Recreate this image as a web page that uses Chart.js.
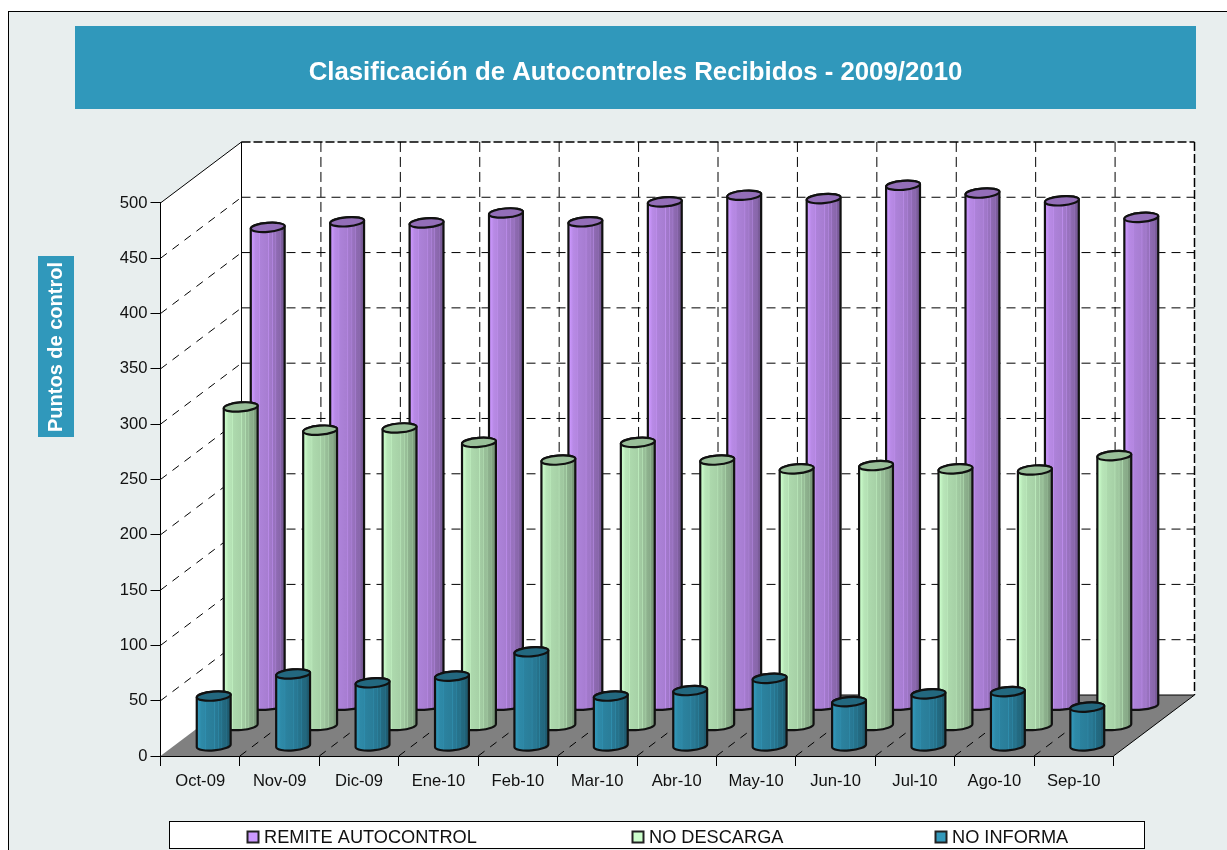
<!DOCTYPE html>
<html>
<head>
<meta charset="utf-8">
<title>Autocontroles</title>
<script src="https://cdn.jsdelivr.net/npm/chart.js@4"></script>
<style>
    html, body { margin: 0; background: #fff; overflow: hidden; }
    canvas { display: block; }
</style>
</head>
<body>
<canvas id="myChart" width="1227" height="850"></canvas>
<script>
var meses = ['Oct-09', 'Nov-09', 'Dic-09', 'Ene-10', 'Feb-10', 'Mar-10', 'Abr-10', 'May-10', 'Jun-10', 'Jul-10', 'Ago-10', 'Sep-10'];
var remite = [432, 437, 436, 445, 437, 455, 461, 458, 470, 463, 456, 441];
var noDescarga = [288, 267, 269, 256, 240, 256, 240, 232, 235, 232, 231, 244];
var noInforma = [45, 65, 57, 63, 85, 45, 50, 61, 40, 47, 49, 35];

var FONT = '"Liberation Sans", Arial, sans-serif';
var DX = 81, DY = 61;   // profundidad del grafico 3D
var RX = 17, RY = 4.5, TILT = -0.08;

// color base, mas oscuro segun f
function shade(rgb, f) {
    return 'rgb(' + Math.round(rgb[0] * f) + ',' + Math.round(rgb[1] * f) + ',' + Math.round(rgb[2] * f) + ')';
}

var rayas = [[0, 1], [0.07, 0.97], [0.14, 0.9], [0.24, 0.88], [0.26, 0.93], [0.28, 0.85], [0.42, 0.83], [0.5, 0.82], [0.52, 0.92], [0.54, 0.8],
    [0.62, 0.78], [0.64, 0.87], [0.66, 0.75], [0.72, 0.74], [0.74, 0.84], [0.76, 0.7], [0.86, 0.67], [0.88, 0.72], [0.9, 0.62], [1, 0.56]];

function cilindro(ctx, cx, yBase, yTop, rgb, fTop) {
    var grad = ctx.createLinearGradient(cx - RX, 0, cx + RX, 0);
    rayas.forEach(function (r) {
        grad.addColorStop(r[0], shade(rgb, r[1]));
    });

    ctx.beginPath();
    ctx.ellipse(cx, yBase, RX, RY, TILT, Math.PI, 0, true);
    ctx.ellipse(cx, yTop, RX, RY, TILT, 0, Math.PI, true);
    ctx.closePath();
    ctx.fillStyle = grad;
    ctx.fill();
    ctx.lineWidth = 2.2;
    ctx.strokeStyle = '#111';
    ctx.stroke();

    ctx.beginPath();
    ctx.ellipse(cx, yTop, RX, RY, TILT, 0, Math.PI * 2);
    ctx.fillStyle = shade(rgb, fTop);
    ctx.fill();
    ctx.stroke();
}

function linea(ctx, x1, y1, x2, y2, dash, width) {
    ctx.beginPath();
    ctx.setLineDash(dash || []);
    ctx.lineWidth = width || 1;
    ctx.moveTo(x1, y1);
    ctx.lineTo(x2, y2);
    ctx.stroke();
    ctx.setLineDash([]);
}

var plugin3d = {
    id: 'plugin3d',
    afterLayout: function (chart) {
        // centrar el titulo sobre la banda azul
        chart.titleBlock.left -= 3;
    },
    beforeDraw: function (chart) {
        var ctx = chart.ctx;
        var x = chart.scales.x, y = chart.scales.y;
        var i, px, py;

        ctx.save();
        // fondo y marco
        ctx.fillStyle = '#e8eeee';
        ctx.fillRect(8.5, 11.5, 1220, 840);
        ctx.strokeStyle = '#000';
        ctx.lineWidth = 1;
        ctx.strokeRect(8.5, 11.5, 1240, 860);

        // banda del titulo
        ctx.fillStyle = '#3098bb';
        ctx.fillRect(75, 26, 1121, 83);

        // titulo del eje Y
        ctx.fillRect(38, 256, 36, 181);
        ctx.save();
        ctx.translate(56, 347);
        ctx.rotate(-Math.PI / 2);
        ctx.fillStyle = '#fff';
        ctx.font = 'bold 20px ' + FONT;
        ctx.textAlign = 'center';
        ctx.textBaseline = 'middle';
        ctx.fillText('Puntos de control', 0, 0);
        ctx.restore();

        // paredes y suelo
        var y0 = y.getPixelForValue(0), yMax = y.getPixelForValue(500);
        ctx.fillStyle = '#fff';
        ctx.fillRect(x.left + DX, yMax - DY, x.right - x.left, y0 - yMax);
        ctx.beginPath();
        ctx.moveTo(x.left, yMax);
        ctx.lineTo(x.left + DX, yMax - DY);
        ctx.lineTo(x.left + DX, y0 - DY);
        ctx.lineTo(x.left, y0);
        ctx.closePath();
        ctx.fill();
        ctx.fillStyle = '#808080';
        ctx.beginPath();
        ctx.moveTo(x.left, y0);
        ctx.lineTo(x.left + DX, y0 - DY);
        ctx.lineTo(x.right + DX, y0 - DY);
        ctx.lineTo(x.right, y0);
        ctx.closePath();
        ctx.fill();

        // rejilla
        ctx.strokeStyle = '#000';
        y.ticks.forEach(function (t) {
            py = y.getPixelForValue(t.value);
            if (t.value > 0 && t.value < 500) {
                linea(ctx, x.left + DX, py - DY, x.right + DX, py - DY, [9, 6]);
                linea(ctx, x.left, py, x.left + DX, py - DY, [8, 7]);
            }
        });
        for (i = 1; i < meses.length; i++) {
            px = x.left + (x.right - x.left) * i / meses.length;
            linea(ctx, px + DX, yMax - DY, px + DX, y0 - DY, [10, 5]);
            linea(ctx, px, y0, px + DX, y0 - DY, [8, 7]);
        }

        // bordes
        linea(ctx, x.left, yMax, x.left + DX, yMax - DY);
        linea(ctx, x.left + DX, yMax - DY, x.left + DX, y0 - DY);
        linea(ctx, x.left + DX, yMax - DY, x.right + DX, yMax - DY, [9, 3], 1.5);
        linea(ctx, x.right + DX, yMax - DY, x.right + DX, y0 - DY, [9, 3], 1.5);
        linea(ctx, x.left + DX, y0 - DY, x.right + DX, y0 - DY);
        linea(ctx, x.right, y0, x.right + DX, y0 - DY);

        // leyenda
        ctx.fillStyle = '#fff';
        ctx.fillRect(169.5, 821.5, 975, 27);
        ctx.strokeStyle = '#000';
        ctx.lineWidth = 1;
        ctx.strokeRect(169.5, 821.5, 975, 27);

        var posLeyenda = [247, 632, 935];
        ctx.font = '18.2px ' + FONT;
        ctx.textBaseline = 'middle';
        chart.data.datasets.forEach(function (ds, n) {
            ctx.fillStyle = shade(ds.rgb, 1);
            ctx.fillRect(posLeyenda[n] + 0.5, 831.5, 11, 11);
            ctx.lineWidth = 2;
            ctx.strokeStyle = '#222';
            ctx.strokeRect(posLeyenda[n] + 0.5, 831.5, 11, 11);
            ctx.fillStyle = '#111';
            ctx.fillText(ds.label, posLeyenda[n] + 17, 838);
        });
        ctx.restore();
    },
    beforeDatasetsDraw: function (chart) {
        var ctx = chart.ctx;
        var x = chart.scales.x, y = chart.scales.y;
        var n = chart.data.datasets.length;

        ctx.save();
        chart.data.datasets.forEach(function (ds, i) {
            var prof = (2 * (n - i) - 1) / (2 * n);
            ds.data.forEach(function (v, j) {
                var cx = x.getPixelForValue(j) + DX * prof;
                cilindro(ctx, cx, y.getPixelForValue(0) - DY * prof, y.getPixelForValue(v) - DY * prof, ds.rgb, ds.topShade);
            });
        });
        ctx.restore();
        return false;
    }
};

var ctx = document.getElementById('myChart').getContext('2d');
var myChart = new Chart(ctx, {
    type: 'bar',
    data: {
        labels: meses,
        datasets: [
            { label: 'REMITE AUTOCONTROL', data: remite, rgb: [204, 153, 255], topShade: 0.72 },
            { label: 'NO DESCARGA', data: noDescarga, rgb: [204, 255, 204], topShade: 0.75 },
            { label: 'NO INFORMA', data: noInforma, rgb: [51, 153, 187], topShade: 0.68 }
        ]
    },
    plugins: [plugin3d],
    options: {
        responsive: false,
        animation: false,
        layout: { padding: { right: 113.5 } },
        plugins: {
            legend: { display: false },
            tooltip: { enabled: false },
            title: {
                display: true,
                fullSize: false,
                text: 'Clasificación de Autocontroles Recibidos - 2009/2010',
                color: '#fff',
                font: { family: FONT, size: 25.8, weight: 'bold', lineHeight: 1.2 },
                padding: { top: 57, bottom: 115 }
            }
        },
        scales: {
            x: {
                afterFit: function (s) { s.height = 94; },
                grid: { drawOnChartArea: false, drawTicks: true, tickLength: 10, color: '#000' },
                border: { color: '#000' },
                ticks: { color: '#111', padding: 5, maxRotation: 0, autoSkip: false, font: { family: FONT, size: 16.6 } }
            },
            y: {
                min: 0,
                max: 500,
                afterFit: function (s) { s.width = 160.5; },
                grid: { drawOnChartArea: false, drawTicks: true, tickLength: 10, color: '#000' },
                border: { color: '#000' },
                ticks: { stepSize: 50, color: '#111', padding: 3, font: { family: FONT, size: 16.6 } }
            }
        }
    }
});
</script>
</body>
</html>
